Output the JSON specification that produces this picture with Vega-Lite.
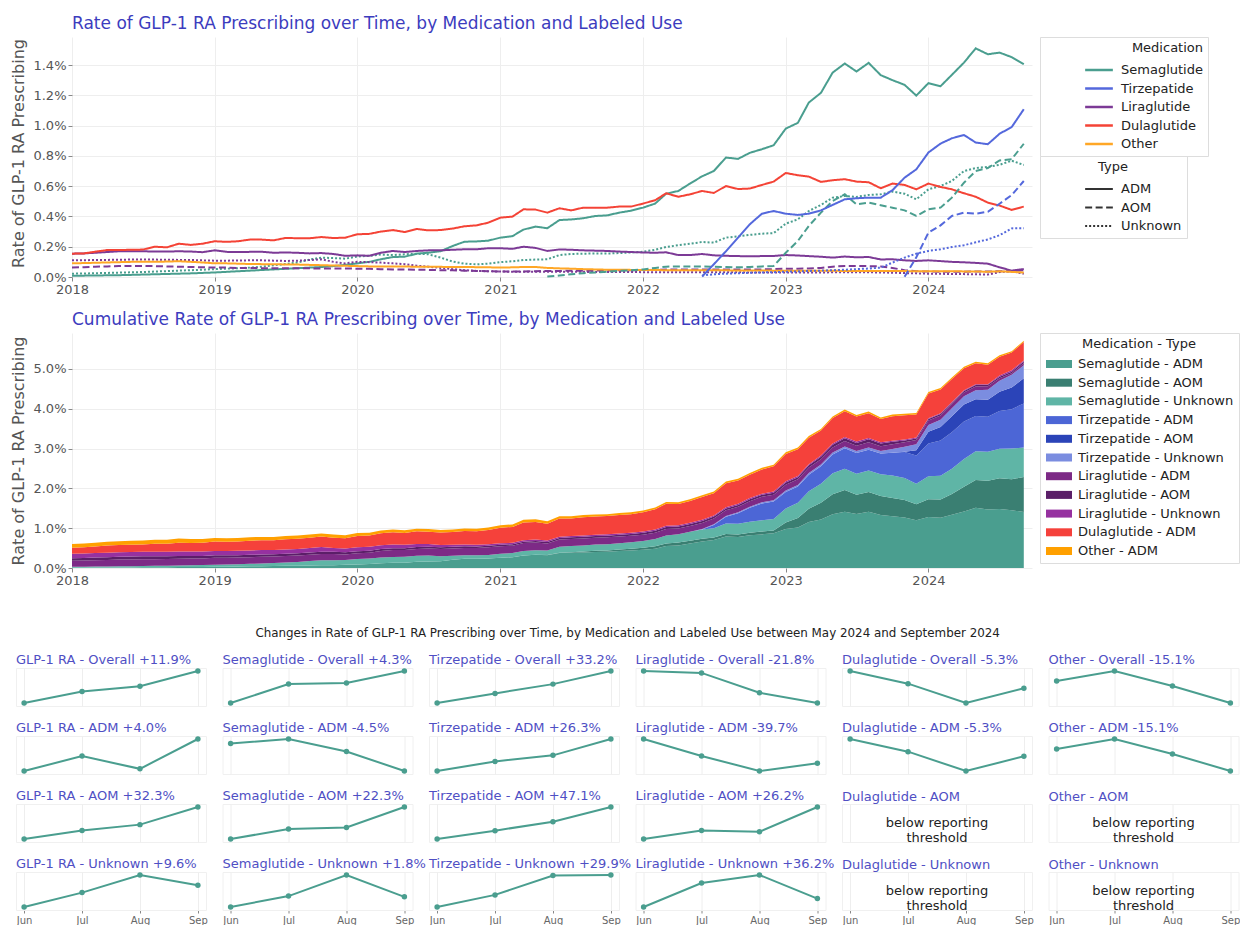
{
"$schema": "https://vega.github.io/schema/vega-lite/v6.json",
"background": "white",
"padding": {"left": 10, "top": 14, "right": 0, "bottom": 0},
"datasets": {
"keys": [
{"key":"SA","Medication":"Semaglutide","Type":"ADM","MT":"Semaglutide - ADM","ord":1},
{"key":"SO","Medication":"Semaglutide","Type":"AOM","MT":"Semaglutide - AOM","ord":2},
{"key":"SU","Medication":"Semaglutide","Type":"Unknown","MT":"Semaglutide - Unknown","ord":3},
{"key":"TA","Medication":"Tirzepatide","Type":"ADM","MT":"Tirzepatide - ADM","ord":4},
{"key":"TO","Medication":"Tirzepatide","Type":"AOM","MT":"Tirzepatide - AOM","ord":5},
{"key":"TU","Medication":"Tirzepatide","Type":"Unknown","MT":"Tirzepatide - Unknown","ord":6},
{"key":"LA","Medication":"Liraglutide","Type":"ADM","MT":"Liraglutide - ADM","ord":7},
{"key":"LO","Medication":"Liraglutide","Type":"AOM","MT":"Liraglutide - AOM","ord":8},
{"key":"LU","Medication":"Liraglutide","Type":"Unknown","MT":"Liraglutide - Unknown","ord":9},
{"key":"DA","Medication":"Dulaglutide","Type":"ADM","MT":"Dulaglutide - ADM","ord":10},
{"key":"OA","Medication":"Other","Type":"ADM","MT":"Other - ADM","ord":11}
],
"main": [
{"d":"2018-01-01","SA":0.008,"SO":0,"SU":0.022,"TA":0,"TO":0,"TU":0,"LA":0.154,"LO":0.062,"LU":0.110,"DA":0.154,"OA":0.090},
{"d":"2018-02-01","SA":0.009,"SO":0,"SU":0.023,"TA":0,"TO":0,"TU":0,"LA":0.156,"LO":0.065,"LU":0.111,"DA":0.156,"OA":0.092},
{"d":"2018-03-01","SA":0.010,"SO":0,"SU":0.025,"TA":0,"TO":0,"TU":0,"LA":0.160,"LO":0.068,"LU":0.112,"DA":0.167,"OA":0.094},
{"d":"2018-04-01","SA":0.011,"SO":0,"SU":0.027,"TA":0,"TO":0,"TU":0,"LA":0.165,"LO":0.070,"LU":0.113,"DA":0.178,"OA":0.096},
{"d":"2018-05-01","SA":0.012,"SO":0,"SU":0.029,"TA":0,"TO":0,"TU":0,"LA":0.170,"LO":0.072,"LU":0.114,"DA":0.178,"OA":0.098},
{"d":"2018-06-01","SA":0.014,"SO":0,"SU":0.031,"TA":0,"TO":0,"TU":0,"LA":0.170,"LO":0.073,"LU":0.115,"DA":0.180,"OA":0.100},
{"d":"2018-07-01","SA":0.016,"SO":0,"SU":0.033,"TA":0,"TO":0,"TU":0,"LA":0.170,"LO":0.073,"LU":0.115,"DA":0.181,"OA":0.100},
{"d":"2018-08-01","SA":0.018,"SO":0,"SU":0.036,"TA":0,"TO":0,"TU":0,"LA":0.168,"LO":0.072,"LU":0.115,"DA":0.200,"OA":0.100},
{"d":"2018-09-01","SA":0.020,"SO":0,"SU":0.039,"TA":0,"TO":0,"TU":0,"LA":0.168,"LO":0.070,"LU":0.114,"DA":0.196,"OA":0.102},
{"d":"2018-10-01","SA":0.022,"SO":0,"SU":0.042,"TA":0,"TO":0,"TU":0,"LA":0.170,"LO":0.068,"LU":0.113,"DA":0.220,"OA":0.104},
{"d":"2018-11-01","SA":0.024,"SO":0,"SU":0.045,"TA":0,"TO":0,"TU":0,"LA":0.168,"LO":0.066,"LU":0.112,"DA":0.212,"OA":0.100},
{"d":"2018-12-01","SA":0.027,"SO":0,"SU":0.048,"TA":0,"TO":0,"TU":0,"LA":0.164,"LO":0.064,"LU":0.110,"DA":0.220,"OA":0.096},
{"d":"2019-01-01","SA":0.030,"SO":0,"SU":0.052,"TA":0,"TO":0,"TU":0,"LA":0.176,"LO":0.062,"LU":0.108,"DA":0.236,"OA":0.090},
{"d":"2019-02-01","SA":0.034,"SO":0,"SU":0.055,"TA":0,"TO":0,"TU":0,"LA":0.166,"LO":0.062,"LU":0.108,"DA":0.232,"OA":0.090},
{"d":"2019-03-01","SA":0.038,"SO":0,"SU":0.058,"TA":0,"TO":0,"TU":0,"LA":0.165,"LO":0.060,"LU":0.109,"DA":0.236,"OA":0.088},
{"d":"2019-04-01","SA":0.042,"SO":0,"SU":0.062,"TA":0,"TO":0,"TU":0,"LA":0.166,"LO":0.060,"LU":0.110,"DA":0.247,"OA":0.086},
{"d":"2019-05-01","SA":0.046,"SO":0,"SU":0.068,"TA":0,"TO":0,"TU":0,"LA":0.167,"LO":0.058,"LU":0.110,"DA":0.247,"OA":0.085},
{"d":"2019-06-01","SA":0.050,"SO":0,"SU":0.077,"TA":0,"TO":0,"TU":0,"LA":0.160,"LO":0.058,"LU":0.108,"DA":0.242,"OA":0.084},
{"d":"2019-07-01","SA":0.054,"SO":0,"SU":0.086,"TA":0,"TO":0,"TU":0,"LA":0.162,"LO":0.057,"LU":0.106,"DA":0.258,"OA":0.083},
{"d":"2019-08-01","SA":0.058,"SO":0,"SU":0.095,"TA":0,"TO":0,"TU":0,"LA":0.160,"LO":0.057,"LU":0.108,"DA":0.256,"OA":0.082},
{"d":"2019-09-01","SA":0.062,"SO":0,"SU":0.115,"TA":0,"TO":0,"TU":0,"LA":0.156,"LO":0.057,"LU":0.112,"DA":0.256,"OA":0.080},
{"d":"2019-10-01","SA":0.066,"SO":0,"SU":0.128,"TA":0,"TO":0,"TU":0,"LA":0.158,"LO":0.056,"LU":0.117,"DA":0.264,"OA":0.078},
{"d":"2019-11-01","SA":0.072,"SO":0,"SU":0.125,"TA":0,"TO":0,"TU":0,"LA":0.152,"LO":0.056,"LU":0.100,"DA":0.257,"OA":0.076},
{"d":"2019-12-01","SA":0.080,"SO":0,"SU":0.121,"TA":0,"TO":0,"TU":0,"LA":0.140,"LO":0.056,"LU":0.090,"DA":0.260,"OA":0.074},
{"d":"2020-01-01","SA":0.090,"SO":0,"SU":0.135,"TA":0,"TO":0,"TU":0,"LA":0.143,"LO":0.055,"LU":0.100,"DA":0.282,"OA":0.072},
{"d":"2020-02-01","SA":0.100,"SO":0,"SU":0.140,"TA":0,"TO":0,"TU":0,"LA":0.140,"LO":0.054,"LU":0.098,"DA":0.285,"OA":0.070},
{"d":"2020-03-01","SA":0.117,"SO":0,"SU":0.148,"TA":0,"TO":0,"TU":0,"LA":0.160,"LO":0.052,"LU":0.095,"DA":0.300,"OA":0.070},
{"d":"2020-04-01","SA":0.132,"SO":0,"SU":0.145,"TA":0,"TO":0,"TU":0,"LA":0.172,"LO":0.050,"LU":0.090,"DA":0.310,"OA":0.070},
{"d":"2020-05-01","SA":0.134,"SO":0,"SU":0.150,"TA":0,"TO":0,"TU":0,"LA":0.165,"LO":0.049,"LU":0.085,"DA":0.297,"OA":0.069},
{"d":"2020-06-01","SA":0.154,"SO":0,"SU":0.154,"TA":0,"TO":0,"TU":0,"LA":0.172,"LO":0.048,"LU":0.075,"DA":0.317,"OA":0.068},
{"d":"2020-07-01","SA":0.161,"SO":0,"SU":0.150,"TA":0,"TO":0,"TU":0,"LA":0.176,"LO":0.047,"LU":0.068,"DA":0.308,"OA":0.068},
{"d":"2020-08-01","SA":0.170,"SO":0,"SU":0.128,"TA":0,"TO":0,"TU":0,"LA":0.176,"LO":0.045,"LU":0.060,"DA":0.310,"OA":0.067},
{"d":"2020-09-01","SA":0.205,"SO":0,"SU":0.102,"TA":0,"TO":0,"TU":0,"LA":0.180,"LO":0.044,"LU":0.052,"DA":0.320,"OA":0.066},
{"d":"2020-10-01","SA":0.233,"SO":0,"SU":0.088,"TA":0,"TO":0,"TU":0,"LA":0.183,"LO":0.042,"LU":0.045,"DA":0.335,"OA":0.066},
{"d":"2020-11-01","SA":0.235,"SO":0,"SU":0.084,"TA":0,"TO":0,"TU":0,"LA":0.183,"LO":0.040,"LU":0.040,"DA":0.341,"OA":0.065},
{"d":"2020-12-01","SA":0.240,"SO":0,"SU":0.088,"TA":0,"TO":0,"TU":0,"LA":0.190,"LO":0.038,"LU":0.038,"DA":0.359,"OA":0.064},
{"d":"2021-01-01","SA":0.260,"SO":0,"SU":0.098,"TA":0,"TO":0,"TU":0,"LA":0.190,"LO":0.036,"LU":0.036,"DA":0.392,"OA":0.062},
{"d":"2021-02-01","SA":0.270,"SO":0,"SU":0.104,"TA":0,"TO":0,"TU":0,"LA":0.186,"LO":0.036,"LU":0.035,"DA":0.399,"OA":0.064},
{"d":"2021-03-01","SA":0.313,"SO":0,"SU":0.112,"TA":0,"TO":0,"TU":0,"LA":0.200,"LO":0.037,"LU":0.035,"DA":0.447,"OA":0.066},
{"d":"2021-04-01","SA":0.333,"SO":0,"SU":0.115,"TA":0,"TO":0,"TU":0,"LA":0.192,"LO":0.038,"LU":0.035,"DA":0.445,"OA":0.066},
{"d":"2021-05-01","SA":0.322,"SO":0.003,"SU":0.117,"TA":0,"TO":0,"TU":0,"LA":0.172,"LO":0.040,"LU":0.035,"DA":0.425,"OA":0.060},
{"d":"2021-06-01","SA":0.376,"SO":0.010,"SU":0.145,"TA":0,"TO":0,"TU":0,"LA":0.182,"LO":0.040,"LU":0.034,"DA":0.454,"OA":0.057},
{"d":"2021-07-01","SA":0.380,"SO":0.018,"SU":0.152,"TA":0,"TO":0,"TU":0,"LA":0.180,"LO":0.041,"LU":0.034,"DA":0.440,"OA":0.055},
{"d":"2021-08-01","SA":0.388,"SO":0.025,"SU":0.154,"TA":0,"TO":0,"TU":0,"LA":0.176,"LO":0.042,"LU":0.034,"DA":0.458,"OA":0.052},
{"d":"2021-09-01","SA":0.403,"SO":0.030,"SU":0.155,"TA":0,"TO":0,"TU":0,"LA":0.174,"LO":0.042,"LU":0.033,"DA":0.458,"OA":0.050},
{"d":"2021-10-01","SA":0.407,"SO":0.035,"SU":0.155,"TA":0,"TO":0,"TU":0,"LA":0.172,"LO":0.043,"LU":0.033,"DA":0.458,"OA":0.048},
{"d":"2021-11-01","SA":0.425,"SO":0.040,"SU":0.158,"TA":0,"TO":0,"TU":0,"LA":0.168,"LO":0.044,"LU":0.033,"DA":0.465,"OA":0.048},
{"d":"2021-12-01","SA":0.438,"SO":0.044,"SU":0.162,"TA":0,"TO":0,"TU":0,"LA":0.165,"LO":0.045,"LU":0.033,"DA":0.465,"OA":0.047},
{"d":"2022-01-01","SA":0.458,"SO":0.050,"SU":0.167,"TA":0,"TO":0,"TU":0,"LA":0.162,"LO":0.046,"LU":0.032,"DA":0.485,"OA":0.046},
{"d":"2022-02-01","SA":0.485,"SO":0.060,"SU":0.180,"TA":0,"TO":0,"TU":0,"LA":0.160,"LO":0.048,"LU":0.032,"DA":0.507,"OA":0.046},
{"d":"2022-03-01","SA":0.550,"SO":0.068,"SU":0.198,"TA":0,"TO":0,"TU":0,"LA":0.163,"LO":0.049,"LU":0.032,"DA":0.553,"OA":0.045},
{"d":"2022-04-01","SA":0.568,"SO":0.070,"SU":0.210,"TA":0,"TO":0,"TU":0,"LA":0.145,"LO":0.050,"LU":0.032,"DA":0.530,"OA":0.045},
{"d":"2022-05-01","SA":0.617,"SO":0.070,"SU":0.220,"TA":0,"TO":0,"TU":0,"LA":0.145,"LO":0.050,"LU":0.032,"DA":0.546,"OA":0.045},
{"d":"2022-06-01","SA":0.665,"SO":0.070,"SU":0.231,"TA":0.003,"TO":0,"TU":0.010,"LA":0.152,"LO":0.050,"LU":0.031,"DA":0.568,"OA":0.044},
{"d":"2022-07-01","SA":0.700,"SO":0.068,"SU":0.227,"TA":0.084,"TO":0,"TU":0.018,"LA":0.143,"LO":0.050,"LU":0.031,"DA":0.555,"OA":0.044},
{"d":"2022-08-01","SA":0.789,"SO":0.066,"SU":0.260,"TA":0.170,"TO":0,"TU":0.022,"LA":0.140,"LO":0.049,"LU":0.031,"DA":0.601,"OA":0.044},
{"d":"2022-09-01","SA":0.780,"SO":0.064,"SU":0.268,"TA":0.260,"TO":0,"TU":0.025,"LA":0.138,"LO":0.049,"LU":0.031,"DA":0.581,"OA":0.043},
{"d":"2022-10-01","SA":0.820,"SO":0.066,"SU":0.278,"TA":0.348,"TO":0,"TU":0.028,"LA":0.137,"LO":0.050,"LU":0.030,"DA":0.584,"OA":0.043},
{"d":"2022-11-01","SA":0.844,"SO":0.070,"SU":0.286,"TA":0.418,"TO":0,"TU":0.030,"LA":0.138,"LO":0.050,"LU":0.030,"DA":0.608,"OA":0.043},
{"d":"2022-12-01","SA":0.870,"SO":0.073,"SU":0.290,"TA":0.436,"TO":0,"TU":0.032,"LA":0.139,"LO":0.052,"LU":0.030,"DA":0.630,"OA":0.042},
{"d":"2023-01-01","SA":0.980,"SO":0.160,"SU":0.352,"TA":0.418,"TO":0,"TU":0.035,"LA":0.145,"LO":0.055,"LU":0.030,"DA":0.687,"OA":0.042},
{"d":"2023-02-01","SA":1.018,"SO":0.238,"SU":0.381,"TA":0.410,"TO":0,"TU":0.037,"LA":0.142,"LO":0.055,"LU":0.030,"DA":0.672,"OA":0.042},
{"d":"2023-03-01","SA":1.152,"SO":0.337,"SU":0.436,"TA":0.418,"TO":0,"TU":0.040,"LA":0.138,"LO":0.056,"LU":0.030,"DA":0.663,"OA":0.041},
{"d":"2023-04-01","SA":1.216,"SO":0.425,"SU":0.476,"TA":0.440,"TO":0,"TU":0.042,"LA":0.134,"LO":0.060,"LU":0.030,"DA":0.628,"OA":0.041},
{"d":"2023-05-01","SA":1.350,"SO":0.502,"SU":0.524,"TA":0.476,"TO":0,"TU":0.045,"LA":0.128,"LO":0.068,"LU":0.031,"DA":0.639,"OA":0.041},
{"d":"2023-06-01","SA":1.410,"SO":0.546,"SU":0.535,"TA":0.513,"TO":0,"TU":0.048,"LA":0.135,"LO":0.073,"LU":0.032,"DA":0.646,"OA":0.040},
{"d":"2023-07-01","SA":1.357,"SO":0.480,"SU":0.529,"TA":0.520,"TO":0,"TU":0.052,"LA":0.130,"LO":0.073,"LU":0.032,"DA":0.630,"OA":0.040},
{"d":"2023-08-01","SA":1.414,"SO":0.491,"SU":0.542,"TA":0.524,"TO":0,"TU":0.056,"LA":0.132,"LO":0.072,"LU":0.031,"DA":0.626,"OA":0.040},
{"d":"2023-09-01","SA":1.333,"SO":0.474,"SU":0.546,"TA":0.524,"TO":0,"TU":0.062,"LA":0.116,"LO":0.070,"LU":0.030,"DA":0.586,"OA":0.040},
{"d":"2023-10-01","SA":1.300,"SO":0.458,"SU":0.564,"TA":0.573,"TO":0,"TU":0.095,"LA":0.117,"LO":0.060,"LU":0.028,"DA":0.617,"OA":0.039},
{"d":"2023-11-01","SA":1.269,"SO":0.440,"SU":0.550,"TA":0.656,"TO":0.002,"TU":0.128,"LA":0.110,"LO":0.045,"LU":0.026,"DA":0.608,"OA":0.039},
{"d":"2023-12-01","SA":1.198,"SO":0.403,"SU":0.513,"TA":0.711,"TO":0.130,"TU":0.154,"LA":0.106,"LO":0.038,"LU":0.024,"DA":0.579,"OA":0.038},
{"d":"2024-01-01","SA":1.280,"SO":0.447,"SU":0.579,"TA":0.822,"TO":0.293,"TU":0.172,"LA":0.110,"LO":0.036,"LU":0.022,"DA":0.617,"OA":0.038},
{"d":"2024-02-01","SA":1.260,"SO":0.458,"SU":0.601,"TA":0.881,"TO":0.341,"TU":0.183,"LA":0.105,"LO":0.035,"LU":0.021,"DA":0.595,"OA":0.038},
{"d":"2024-03-01","SA":1.335,"SO":0.524,"SU":0.634,"TA":0.916,"TO":0.403,"TU":0.198,"LA":0.100,"LO":0.035,"LU":0.020,"DA":0.579,"OA":0.038},
{"d":"2024-04-01","SA":1.416,"SO":0.623,"SU":0.700,"TA":0.938,"TO":0.425,"TU":0.210,"LA":0.097,"LO":0.035,"LU":0.019,"DA":0.553,"OA":0.037},
{"d":"2024-05-01","SA":1.510,"SO":0.700,"SU":0.720,"TA":0.888,"TO":0.418,"TU":0.229,"LA":0.093,"LO":0.036,"LU":0.018,"DA":0.530,"OA":0.036},
{"d":"2024-06-01","SA":1.471,"SO":0.720,"SU":0.727,"TA":0.877,"TO":0.431,"TU":0.248,"LA":0.088,"LO":0.0357,"LU":0.016,"DA":0.491,"OA":0.035},
{"d":"2024-07-01","SA":1.482,"SO":0.770,"SU":0.741,"TA":0.946,"TO":0.484,"TU":0.276,"LA":0.064,"LO":0.0382,"LU":0.0325,"DA":0.472,"OA":0.0374},
{"d":"2024-08-01","SA":1.452,"SO":0.778,"SU":0.768,"TA":0.990,"TO":0.541,"TU":0.321,"LA":0.042,"LO":0.0378,"LU":0.038,"DA":0.443,"OA":0.0338},
{"d":"2024-09-01","SA":1.405,"SO":0.880,"SU":0.740,"TA":1.108,"TO":0.634,"TU":0.322,"LA":0.053,"LO":0.045,"LU":0.0218,"DA":0.465,"OA":0.0297}
],
"small": [
{"panel":"GLP-1 RA - Overall +11.9%","Jun":5.14,"Jul":5.36,"Aug":5.46,"Sep":5.75},
{"panel":"Semaglutide - Overall +4.3%","Jun":2.918,"Jul":2.992,"Aug":2.996,"Sep":3.043},
{"panel":"Tirzepatide - Overall +33.2%","Jun":1.556,"Jul":1.711,"Aug":1.861,"Sep":2.073},
{"panel":"Liraglutide - Overall -21.8%","Jun":0.140,"Jul":0.1382,"Aug":0.1193,"Sep":0.1095},
{"panel":"Dulaglutide - Overall -5.3%","Jun":0.491,"Jul":0.472,"Aug":0.443,"Sep":0.465},
{"panel":"Other - Overall -15.1%","Jun":0.035,"Jul":0.0374,"Aug":0.0338,"Sep":0.0297},
{"panel":"GLP-1 RA - ADM +4.0%","Jun":2.962,"Jul":3.017,"Aug":2.970,"Sep":3.080},
{"panel":"Semaglutide - ADM -4.5%","Jun":1.471,"Jul":1.482,"Aug":1.452,"Sep":1.405},
{"panel":"Tirzepatide - ADM +26.3%","Jun":0.877,"Jul":0.946,"Aug":0.990,"Sep":1.108},
{"panel":"Liraglutide - ADM -39.7%","Jun":0.088,"Jul":0.0636,"Aug":0.042,"Sep":0.053},
{"panel":"Dulaglutide - ADM -5.3%","Jun":0.491,"Jul":0.472,"Aug":0.443,"Sep":0.465},
{"panel":"Other - ADM -15.1%","Jun":0.035,"Jul":0.0374,"Aug":0.0338,"Sep":0.0297},
{"panel":"GLP-1 RA - AOM +32.3%","Jun":1.187,"Jul":1.290,"Aug":1.359,"Sep":1.570},
{"panel":"Semaglutide - AOM +22.3%","Jun":0.720,"Jul":0.770,"Aug":0.778,"Sep":0.880},
{"panel":"Tirzepatide - AOM +47.1%","Jun":0.431,"Jul":0.484,"Aug":0.541,"Sep":0.634},
{"panel":"Liraglutide - AOM +26.2%","Jun":0.0357,"Jul":0.0382,"Aug":0.0378,"Sep":0.045},
{"panel":"Dulaglutide - AOM","note":"below reporting\nthreshold"},
{"panel":"Other - AOM","note":"below reporting\nthreshold"},
{"panel":"GLP-1 RA - Unknown +9.6%","Jun":0.991,"Jul":1.054,"Aug":1.131,"Sep":1.086},
{"panel":"Semaglutide - Unknown +1.8%","Jun":0.727,"Jul":0.741,"Aug":0.768,"Sep":0.740},
{"panel":"Tirzepatide - Unknown +29.9%","Jun":0.248,"Jul":0.276,"Aug":0.321,"Sep":0.322},
{"panel":"Liraglutide - Unknown +36.2%","Jun":0.016,"Jul":0.0325,"Aug":0.038,"Sep":0.0218},
{"panel":"Dulaglutide - Unknown","note":"below reporting\nthreshold"},
{"panel":"Other - Unknown","note":"below reporting\nthreshold"}
]
},
"vconcat": [
{
"title": {"text": "Rate of GLP-1 RA Prescribing over Time, by Medication and Labeled Use", "anchor": "start", "frame": "group", "dx": 56, "fontSize": 17, "color": "#3c3cbe", "fontWeight": "normal", "offset": 4},
"width": 1016, "height": 240,
"view": {"stroke": null},
"data": {"name": "main"},
"transform": [
{"fold": ["SA","SO","SU","TA","TO","TU","LA","LO","LU","DA","OA"], "as": ["key","v"]},
{"filter": "datum.v > 0"},
{"lookup": "key", "from": {"data": {"name": "keys"}, "key": "key", "fields": ["Medication","Type","MT","ord"]}}
],
"mark": {"type": "line", "strokeWidth": 2, "color": "#333333"},
"encoding": {
"x": {"field": "d", "type": "temporal", "scale": {"type": "utc", "range": [56, 1016], "domain": [{"year": 2018, "month": 1, "date": 1, "utc": true}, {"year": 2024, "month": 9, "date": 22, "utc": true}]}, "axis": {"format": "%Y", "tickCount": {"interval": "year", "step": 1}, "title": null, "labelFlush": false}},
"y": {"field": "v", "type": "quantitative", "scale": {"domain": [0, 1.585], "nice": false}, "axis": {"values": [0,0.2,0.4,0.6,0.8,1.0,1.2,1.4], "labelExpr": "format(datum.value, '.1f') + '%'", "title": "Rate of GLP-1 RA Prescribing", "titlePadding": 6, "titleY": 116, "offset": -56}},
"color": {"field": "Medication", "type": "nominal", "scale": {"domain": ["Semaglutide","Tirzepatide","Liraglutide","Dulaglutide","Other"], "range": ["#4a9e8f","#5468dc","#7c3a96","#f44336","#ffa726"]}, "legend": {"title": "Medication", "orient": "right", "offset": 8, "symbolType": "M-1.6,0H1.6", "symbolSize": 300, "symbolStrokeWidth": 2.5, "symbolOffset": 44, "labelOffset": 12, "titleAnchor": "end", "padding": 5, "strokeColor": "#dddddd", "rowPadding": 1.5}},
"strokeDash": {"field": "Type", "type": "nominal", "scale": {"domain": ["ADM","AOM","Unknown"], "range": [[1,0],[7,3.5],[2,2]]}, "legend": {"title": "Type", "orient": "right", "offset": 8, "symbolType": "M-1.6,0H1.6", "symbolSize": 300, "symbolStrokeWidth": 2, "symbolStrokeColor": "#333333", "symbolOffset": 44, "labelOffset": 12, "titleAnchor": "middle", "padding": 5, "strokeColor": "#dddddd", "rowPadding": 1.5, "labelExpr": "datum.label + '           '"}}
}
},
{
"title": {"text": "Cumulative Rate of GLP-1 RA Prescribing over Time, by Medication and Labeled Use", "anchor": "start", "frame": "group", "dx": 56, "fontSize": 17, "color": "#3c3cbe", "fontWeight": "normal", "offset": 4},
"width": 1016, "height": 235,
"view": {"stroke": null},
"data": {"name": "main"},
"transform": [
{"fold": ["SA","SO","SU","TA","TO","TU","LA","LO","LU","DA","OA"], "as": ["key","v"]},
{"lookup": "key", "from": {"data": {"name": "keys"}, "key": "key", "fields": ["Medication","Type","MT","ord"]}}
],
"mark": {"type": "area"},
"encoding": {
"x": {"field": "d", "type": "temporal", "scale": {"type": "utc", "range": [56, 1016], "domain": [{"year": 2018, "month": 1, "date": 1, "utc": true}, {"year": 2024, "month": 9, "date": 22, "utc": true}]}, "axis": {"format": "%Y", "tickCount": {"interval": "year", "step": 1}, "title": " ", "titlePadding": 9, "labelFlush": false}},
"y": {"field": "v", "type": "quantitative", "stack": "zero", "scale": {"domain": [0, 5.9], "nice": false}, "axis": {"values": [0,1,2,3,4,5], "labelExpr": "format(datum.value, '.1f') + '%'", "title": "Rate of GLP-1 RA Prescribing", "titlePadding": 6, "offset": -56}},
"color": {"field": "MT", "type": "nominal", "scale": {"domain": ["Semaglutide - ADM","Semaglutide - AOM","Semaglutide - Unknown","Tirzepatide - ADM","Tirzepatide - AOM","Tirzepatide - Unknown","Liraglutide - ADM","Liraglutide - AOM","Liraglutide - Unknown","Dulaglutide - ADM","Other - ADM"], "range": ["#4a9e8f","#3a7f72","#5fb5a6","#4c66d6","#2b44b8","#7b8de0","#7d2a86","#5b1f68","#9631a0","#f5413b","#ffa000"]}, "legend": {"title": "Medication - Type", "orient": "right", "offset": 8, "symbolType": "M-1.625,-0.5H1.625V0.5H-1.625Z", "symbolSize": 256, "symbolStrokeWidth": 0, "symbolOffset": 6, "labelOffset": 11, "titleAnchor": "middle", "padding": 5, "strokeColor": "#dddddd", "rowPadding": 3.7}},
"order": {"field": "ord", "type": "quantitative", "sort": "ascending"}
}
},
{
"title": {"text": "Changes in Rate of GLP-1 RA Prescribing over Time, by Medication and Labeled Use between May 2024 and September 2024", "anchor": "middle", "fontSize": 11.9, "color": "#222222", "fontWeight": "normal", "offset": 14},
"data": {"name": "small"},
"columns": 6,
"bounds": "flush",
"spacing": {"row": 30, "column": 16.5},
"facet": {"field": "panel", "type": "nominal", "sort": ["GLP-1 RA - Overall +11.9%","Semaglutide - Overall +4.3%","Tirzepatide - Overall +33.2%","Liraglutide - Overall -21.8%","Dulaglutide - Overall -5.3%","Other - Overall -15.1%","GLP-1 RA - ADM +4.0%","Semaglutide - ADM -4.5%","Tirzepatide - ADM +26.3%","Liraglutide - ADM -39.7%","Dulaglutide - ADM -5.3%","Other - ADM -15.1%","GLP-1 RA - AOM +32.3%","Semaglutide - AOM +22.3%","Tirzepatide - AOM +47.1%","Liraglutide - AOM +26.2%","Dulaglutide - AOM","Other - AOM","GLP-1 RA - Unknown +9.6%","Semaglutide - Unknown +1.8%","Tirzepatide - Unknown +29.9%","Liraglutide - Unknown +36.2%","Dulaglutide - Unknown","Other - Unknown"], "header": {"title": null, "labelAnchor": "start", "labelAlign": "left", "labelFontSize": 13, "labelColor": "#4f4fc4", "labelPadding": 0, "labelLimit": 0}},
"spec": {
"width": 190, "height": 38,
"view": {"stroke": "#f0f0f0"},
"layer": [
{"transform": [{"filter": "isValid(datum.Jun)"}, {"fold": ["Jun","Jul","Aug","Sep"], "as": ["m","v"]}],
"mark": {"type": "line", "color": "#4a9e8f", "strokeWidth": 2},
"encoding": {
"x": {"field": "m", "type": "ordinal", "sort": ["Jun","Jul","Aug","Sep"], "scale": {"type": "point", "padding": 0.14}, "axis": {"title": null, "labelFontSize": 10, "labelColor": "#666666", "tickSize": 3, "labelAngle": 0, "grid": true, "gridColor": "#eeeeee", "domain": false, "labelPadding": 2}},
"y": {"field": "v", "type": "quantitative", "scale": {"zero": false, "nice": false, "padding": 3}, "axis": null}}},
{"transform": [{"filter": "isValid(datum.Jun)"}, {"fold": ["Jun","Jul","Aug","Sep"], "as": ["m","v"]}],
"mark": {"type": "point", "filled": true, "color": "#4a9e8f", "size": 30, "opacity": 1},
"encoding": {
"x": {"field": "m", "type": "ordinal", "sort": ["Jun","Jul","Aug","Sep"]},
"y": {"field": "v", "type": "quantitative"}}},
{"transform": [{"filter": "isValid(datum.note)"}],
"mark": {"type": "text", "fontSize": 13, "color": "#222222", "lineBreak": "\n", "align": "center", "baseline": "middle"},
"encoding": {"text": {"field": "note"}}}
]
},
"resolve": {"scale": {"y": "independent"}}
}
],
"spacing": 14,
"resolve": {"scale": {"color": "independent", "strokeDash": "independent"}, "legend": {"color": "independent", "strokeDash": "independent"}},
"config": {
"font": "DejaVu Sans",
"axis": {"labelFontSize": 13, "labelColor": "#555555", "titleFontSize": 16, "titleColor": "#555555", "titleFontWeight": "normal", "gridColor": "#eeeeee", "domain": false, "tickColor": "#888888", "tickSize": 4, "labelPadding": 2},
"legend": {"labelFontSize": 13, "labelColor": "#222222", "titleFontSize": 13, "titleFontWeight": "normal", "titleColor": "#222222", "layout": {"right": {"margin": 0, "direction": "vertical", "anchor": "start"}}},
"title": {"fontWeight": "normal"}
}
}
